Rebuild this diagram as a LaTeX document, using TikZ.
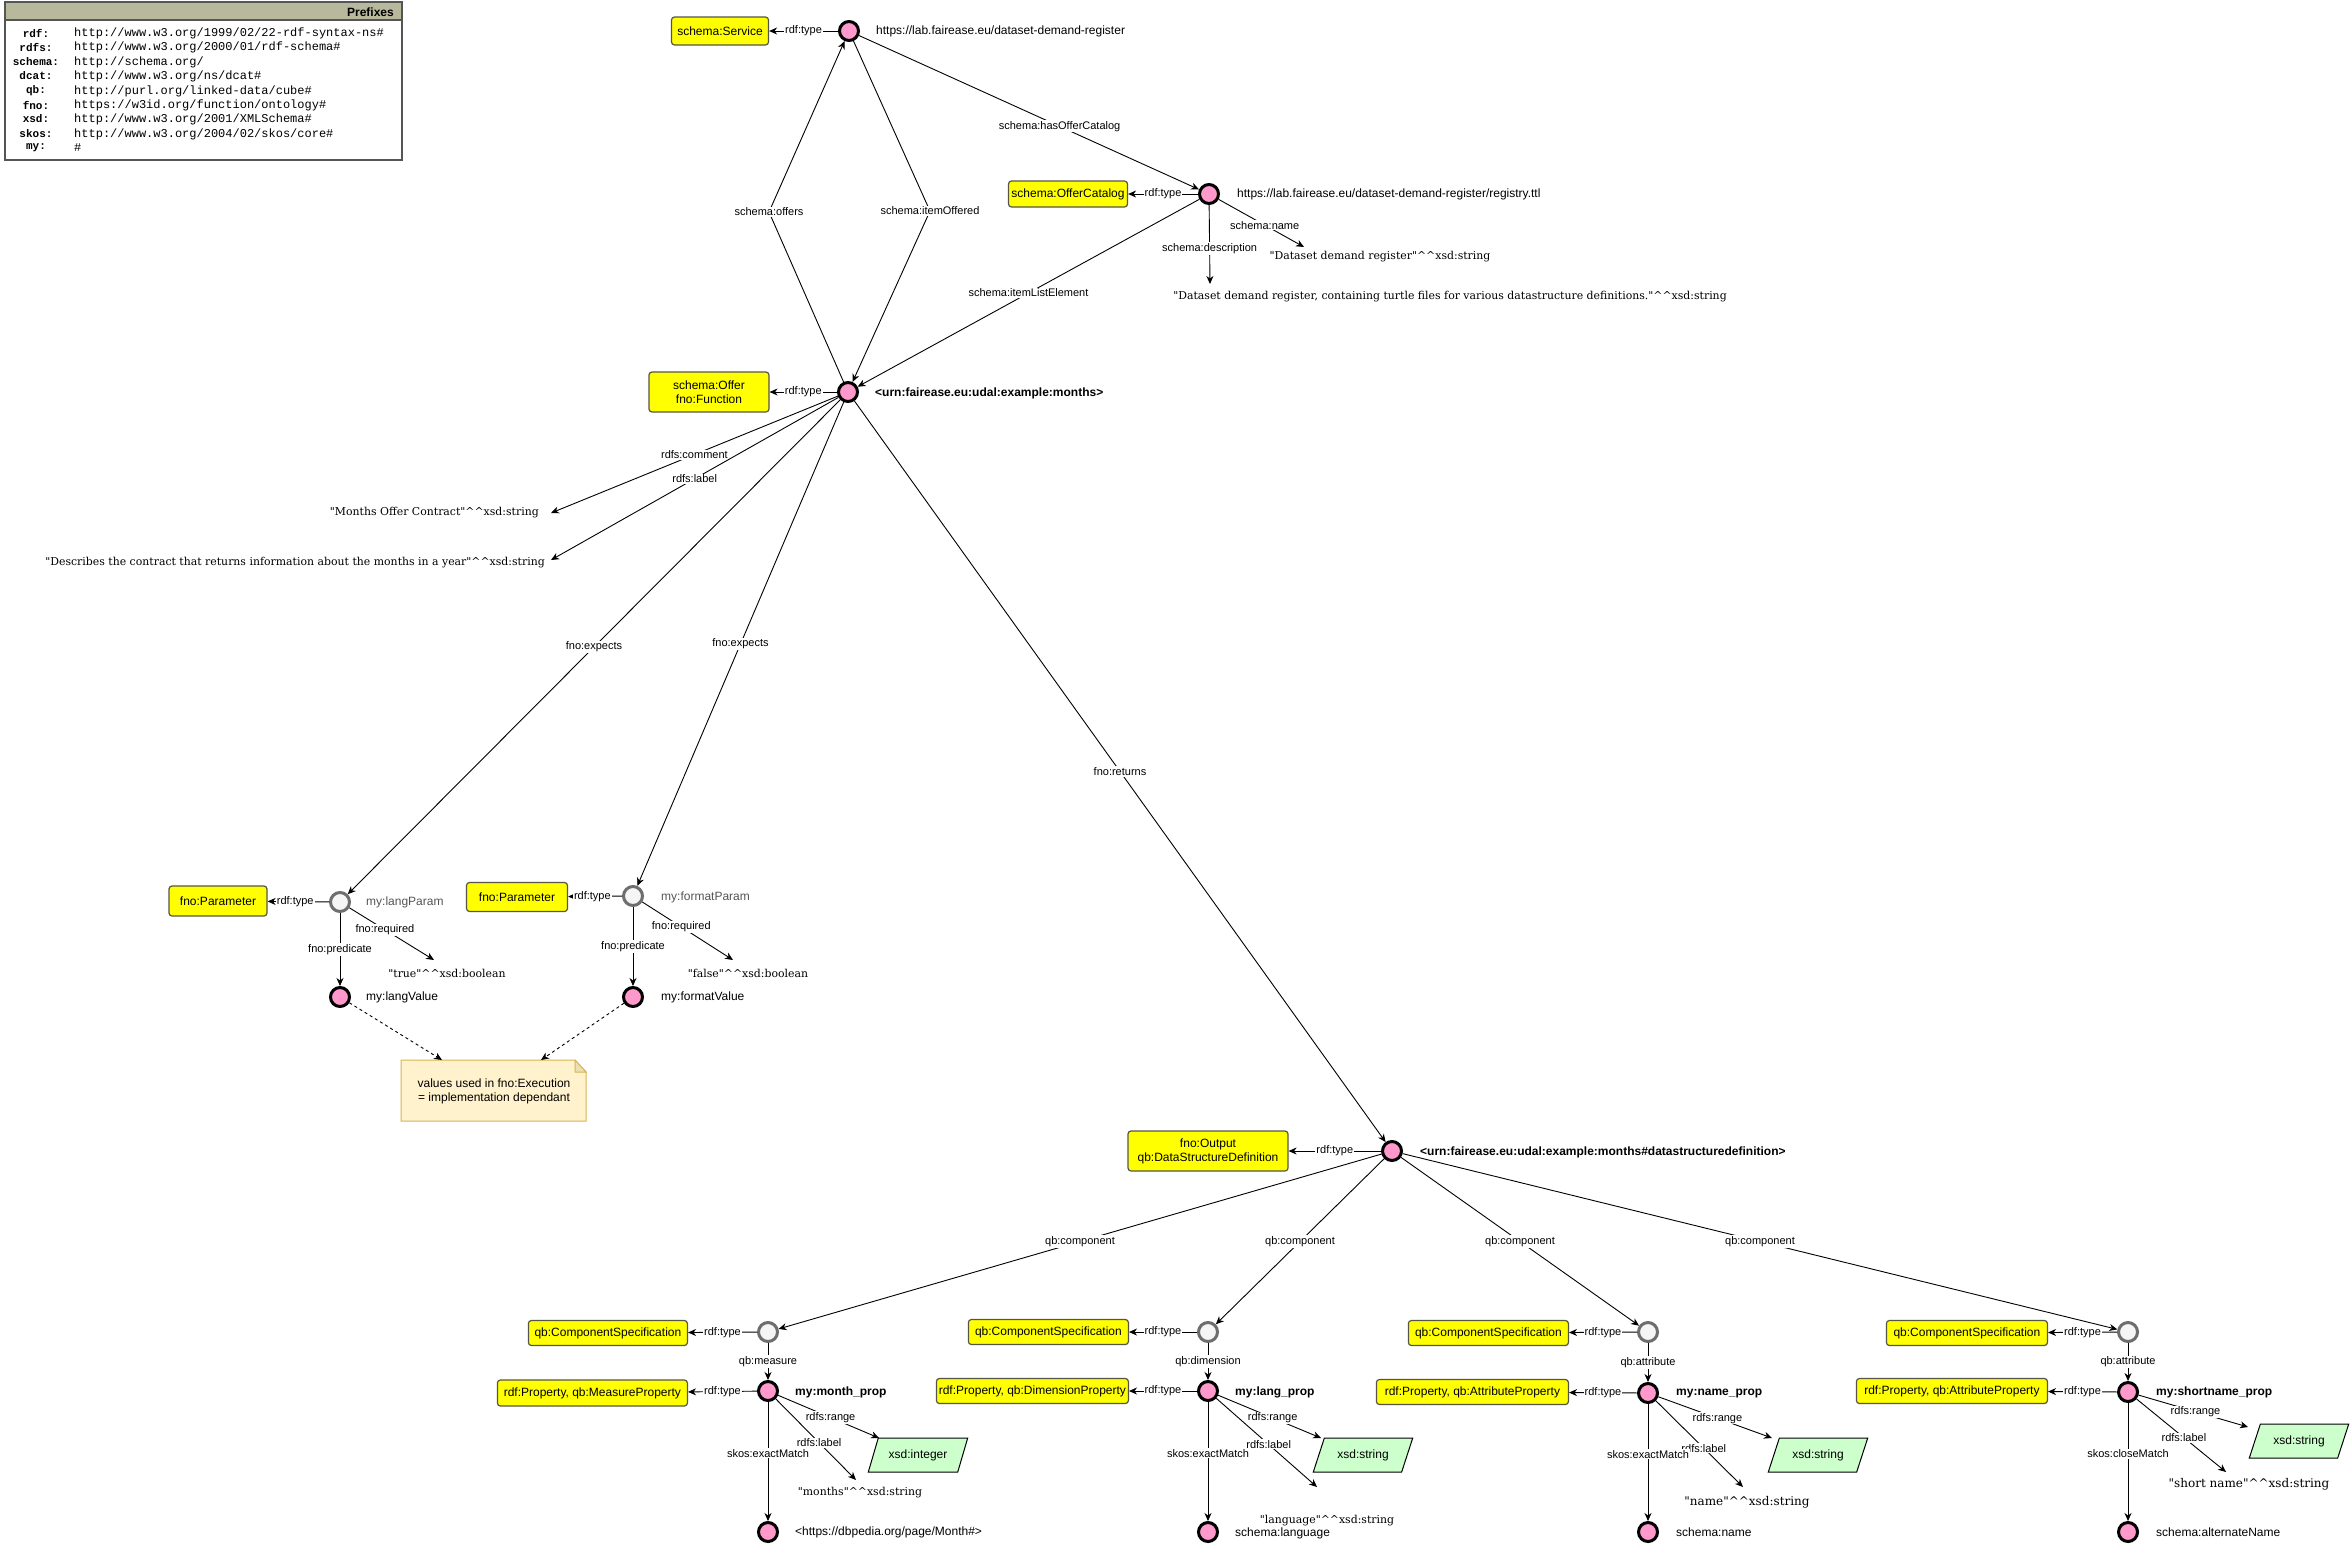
\documentclass[tikz,border=0pt]{standalone}
\usepackage{fontspec}
\setmainfont{Liberation Sans}
\newfontfamily\litfont{DejaVu Serif}
\newfontfamily\pfxfont{Liberation Mono}
\usetikzlibrary{arrows.meta,shapes.geometric}
\definecolor{iripink}{HTML}{FF99CC}
\definecolor{bnfill}{HTML}{F5F5F5}
\definecolor{bnline}{HTML}{6E6E6E}
\definecolor{clsfill}{HTML}{FFFF00}
\definecolor{clsline}{HTML}{555544}
\definecolor{dtfill}{HTML}{CCFFCC}
\definecolor{notefill}{HTML}{FFF2CC}
\definecolor{noteline}{HTML}{D6B656}
\definecolor{notefold}{HTML}{EDE0B0}
\definecolor{hdrfill}{HTML}{B8B89C}
\definecolor{greytxt}{HTML}{555555}
\tikzset{
  edge/.style={draw=black, line width=0.9pt, -{Stealth[length=8pt,width=7pt,inset=2.5pt]}},
  dashedge/.style={edge, dash pattern=on 3pt off 3pt},
  lbl/.style={fill=white, inner sep=1pt, font=\fontsize{11}{13}\selectfont},
  iri/.style={circle, draw=black, line width=3pt, fill=iripink, minimum size=19pt, inner sep=0pt},
  bnode/.style={circle, draw=bnline, line width=3pt, fill=bnfill, minimum size=19pt, inner sep=0pt},
  cls/.style={rectangle, rounded corners=3pt, draw=clsline, line width=1.2pt, fill=clsfill, inner xsep=2pt, inner ysep=2pt, font=\fontsize{12}{14}\selectfont, align=center},
  txt/.style={inner sep=0pt, anchor=west, font=\fontsize{12}{14}\selectfont},
  txtb/.style={inner sep=0pt, anchor=west, font=\bfseries\fontsize{12}{14}\selectfont},
  lit/.style={inner sep=0pt, font=\litfont\fontsize{10.9}{13}\selectfont},
  litbig/.style={inner sep=0pt, font=\litfont\fontsize{12}{14}\selectfont},
  dt/.style={trapezium, trapezium left angle=60, trapezium right angle=120, trapezium stretches=true, draw=black, line width=1pt, fill=dtfill, minimum width=100pt, minimum height=34pt, inner sep=1pt, font=\fontsize{12}{14}\selectfont},
  pfx/.style={inner sep=0pt, font=\pfxfont\bfseries\fontsize{11}{13}\selectfont},
  uri/.style={inner sep=0pt, anchor=west, font=\pfxfont\fontsize{12}{14}\selectfont},
  notebox/.style={inner sep=0pt, minimum width=185pt, minimum height=61pt, align=center, font=\fontsize{12}{14}\selectfont},
}
\newcommand{\dc}{\textasciicircum\textasciicircum}
\begin{document}
\begin{tikzpicture}[x=1pt,y=-1pt]
\useasboundingbox (0,0) rectangle (2352,1547);
\fill[white] (0,0) rectangle (2352,1547);

% ---------- Prefix table ----------
\draw[draw=greytxt, line width=1.2pt, fill=white] (5,2) rectangle (402,160);
\draw[draw=greytxt, line width=1.2pt, fill=hdrfill] (5,2) rectangle (402,20);
\node[inner sep=0pt, anchor=east, font=\bfseries\fontsize{12}{14}\selectfont] (pfxhead) at (394,12) {Prefixes};
\node[pfx] (pf1) at (36,33) {rdf:};    \node[uri] (pu1) at (74,33) {http://www.w3.org/1999/02/22-rdf-syntax-ns\#};
\node[pfx] (pf2) at (36,47) {rdfs:};   \node[uri] (pu2) at (74,47) {http://www.w3.org/2000/01/rdf-schema\#};
\node[pfx] (pf3) at (36,62) {schema:}; \node[uri] (pu3) at (74,62) {http://schema.org/};
\node[pfx] (pf4) at (36,76) {dcat:};   \node[uri] (pu4) at (74,76) {http://www.w3.org/ns/dcat\#};
\node[pfx] (pf5) at (36,91) {qb:};     \node[uri] (pu5) at (74,91) {http://purl.org/linked-data/cube\#};
\node[pfx] (pf6) at (36,105) {fno:};   \node[uri] (pu6) at (74,105) {https://w3id.org/function/ontology\#};
\node[pfx] (pf7) at (36,119) {xsd:};   \node[uri] (pu7) at (74,119) {http://www.w3.org/2001/XMLSchema\#};
\node[pfx] (pf8) at (36,134) {skos:};  \node[uri] (pu8) at (74,134) {http://www.w3.org/2004/02/skos/core\#};
\node[pfx] (pf9) at (36,148) {my:};    \node[uri] (pu9) at (74,148) {\#};

% ---------- Service ----------
\node[iri] (svc) at (849,31) {};
\node[cls, minimum width=97pt, minimum height=28pt] (svcT) at (720,31) {schema:Service};
\node[txt] (svcL) at (876,31) {https://lab.fairease.eu/dataset-demand-register};

% ---------- Catalog ----------
\node[iri] (cat) at (1209,194) {};
\node[cls, minimum width=119pt, minimum height=26pt] (catT) at (1068,194) {schema:OfferCatalog};
\node[txt] (catL) at (1237,194) {https://lab.fairease.eu/dataset-demand-register/registry.ttl};
\coordinate (catNameTip) at (1304,247);
\node[lit] (catName) at (1380,257) {"Dataset demand register"\dc xsd:string};
\coordinate (catDescTip) at (1210,284);
\node[lit] (catDesc) at (1450,297) {"Dataset demand register, containing turtle files for various datastructure definitions."\dc xsd:string};

% ---------- Months offer ----------
\node[iri] (mon) at (848,392) {};
\node[cls, minimum width=120pt, minimum height=40pt] (monT) at (709,392) {schema:Offer\\fno:Function};
\node[txtb] (monL) at (875,393) {<urn:fairease.eu:udal:example:months>};
\coordinate (monComTip) at (551,513);
\node[lit, anchor=east] (monCom) at (539,513) {"Months Offer Contract"\dc xsd:string};
\coordinate (monLabTip) at (551,560);
\node[lit, anchor=east] (monLab) at (545,563) {"Describes the contract that returns information about the months in a year"\dc xsd:string};
\coordinate (bOff) at (769,212);
\coordinate (bItem) at (930,211);

% ---------- Parameters ----------
\node[bnode] (lp) at (340,902) {};
\node[cls, minimum width=98pt, minimum height=30pt] (lpT) at (218,901) {fno:Parameter};
\node[txt, text=greytxt] (lpL) at (366,902) {my:langParam};
\coordinate (lpReqTip) at (434,960);
\node[lit] (lpReq) at (447,973) {"true"\dc xsd:boolean};
\node[iri] (lv) at (340,997) {};
\node[txt] (lvL) at (366,997) {my:langValue};

\node[bnode] (fp) at (633,896) {};
\node[cls, minimum width=101pt, minimum height=29pt] (fpT) at (517,897) {fno:Parameter};
\node[txt, text=greytxt] (fpL) at (661,897) {my:formatParam};
\coordinate (fpReqTip) at (733,960);
\node[lit] (fpReq) at (748,973) {"false"\dc xsd:boolean};
\node[iri] (fv) at (633,997) {};
\node[txt] (fvL) at (661,997) {my:formatValue};

% note
\draw[draw=noteline, line width=1pt, fill=notefill] (401,1060) -- (575,1060) -- (586,1072) -- (586,1121) -- (401,1121) -- cycle;
\draw[draw=noteline, line width=1pt, fill=notefold] (575,1060) -- (575,1072) -- (586,1072) -- cycle;
\node[notebox] (note) at (494,1091) {values used in fno:Execution\\= implementation dependant};
\coordinate (noteA) at (442,1060);
\coordinate (noteB) at (541,1060);

% ---------- Data structure definition ----------
\node[iri] (dsd) at (1392,1151) {};
\node[cls, minimum width=160pt, minimum height=40pt] (dsdT) at (1208,1151) {fno:Output\\qb:DataStructureDefinition};
\node[txtb] (dsdL) at (1420,1152) {<urn:fairease.eu:udal:example:months\#datastructuredefinition>};

% component 1
\node[bnode] (cs1) at (768,1332) {};
\node[cls, anchor=east, minimum width=159pt, minimum height=25pt] (cs1T) at (688,1333) {qb:ComponentSpecification};
\node[iri] (p1) at (768,1391) {};
\node[cls, anchor=east, minimum width=190pt, minimum height=26pt] (p1T) at (688,1393) {rdf:Property, qb:MeasureProperty};
\node[txtb] (p1L) at (795,1392) {my:month\_prop};
\node[dt] (p1R) at (918,1455) {xsd:integer};
\coordinate (p1RTip) at (879,1438);
\coordinate (p1LTip) at (856,1480);
\node[lit] (p1Lit) at (860,1493) {"months"\dc xsd:string};
\node[iri] (p1M) at (768,1532) {};
\node[txt] (p1ML) at (795,1532) {<https://dbpedia.org/page/Month\#>};

% component 2
\node[bnode] (cs2) at (1208,1332) {};
\node[cls, anchor=east, minimum width=160pt, minimum height=25pt] (cs2T) at (1129,1332) {qb:ComponentSpecification};
\node[iri] (p2) at (1208,1391) {};
\node[cls, anchor=east, minimum width=192pt, minimum height=25pt] (p2T) at (1129,1391) {rdf:Property, qb:DimensionProperty};
\node[txtb] (p2L) at (1235,1392) {my:lang\_prop};
\node[dt] (p2R) at (1363,1455) {xsd:string};
\coordinate (p2RTip) at (1321,1438);
\coordinate (p2LTip) at (1317,1487);
\node[lit] (p2Lit) at (1327,1521) {"language"\dc xsd:string};
\node[iri] (p2M) at (1208,1532) {};
\node[txt] (p2ML) at (1235,1533) {schema:language};

% component 3
\node[bnode] (cs3) at (1648,1332) {};
\node[cls, anchor=east, minimum width=160pt, minimum height=25pt] (cs3T) at (1569,1333) {qb:ComponentSpecification};
\node[iri] (p3) at (1648,1393) {};
\node[cls, anchor=east, minimum width=192pt, minimum height=25pt] (p3T) at (1569,1392) {rdf:Property, qb:AttributeProperty};
\node[txtb] (p3L) at (1676,1393) {my:name\_prop};
\node[dt] (p3R) at (1818,1455) {xsd:string};
\coordinate (p3RTip) at (1772,1438);
\coordinate (p3LTip) at (1743,1487);
\node[litbig] (p3Lit) at (1747,1502) {"name"\dc xsd:string};
\node[iri] (p3M) at (1648,1532) {};
\node[txt] (p3ML) at (1676,1532) {schema:name};

% component 4
\node[bnode] (cs4) at (2128,1332) {};
\node[cls, anchor=east, minimum width=161pt, minimum height=25pt] (cs4T) at (2048,1333) {qb:ComponentSpecification};
\node[iri] (p4) at (2128,1392) {};
\node[cls, anchor=east, minimum width=191pt, minimum height=25pt] (p4T) at (2048,1391) {rdf:Property, qb:AttributeProperty};
\node[txtb] (p4L) at (2156,1392) {my:shortname\_prop};
\node[dt] (p4R) at (2299,1441) {xsd:string};
\coordinate (p4RTip) at (2248,1427);
\coordinate (p4LTip) at (2226,1472);
\node[litbig] (p4Lit) at (2249,1484) {"short name"\dc xsd:string};
\node[iri] (p4M) at (2128,1532) {};
\node[txt] (p4ML) at (2156,1532) {schema:alternateName};

% ---------- Edges ----------
\draw[edge] (svc) -- node[lbl]{rdf:type} (svcT);
\draw[edge] (svc) -- node[lbl, pos=0.59]{schema:hasOfferCatalog} (cat);
\draw[edge] (cat) -- node[lbl]{rdf:type} (catT);
\draw[edge] (cat) -- node[lbl, pos=0.54]{schema:name} (catNameTip);
\draw[edge] (cat) -- node[lbl, pos=0.55]{schema:description} (catDescTip);
\draw[edge] (cat) -- node[lbl]{schema:itemListElement} (mon);
\draw[edge] (mon) -- (bOff) node[lbl]{schema:offers} -- (svc);
\draw[edge] (svc) -- (bItem) node[lbl]{schema:itemOffered} -- (mon);
\draw[edge] (mon) -- node[lbl]{rdf:type} (monT);
\draw[edge] (mon) -- node[lbl, pos=0.5]{rdfs:comment} (monComTip);
\draw[edge] (mon) -- node[lbl, pos=0.5]{rdfs:label} (monLabTip);
\draw[edge] (mon) -- node[lbl]{fno:expects} (lp);
\draw[edge] (mon) -- node[lbl]{fno:expects} (fp);
\draw[edge] (mon) -- node[lbl]{fno:returns} (dsd);

\draw[edge] (lp) -- node[lbl, pos=0.55]{rdf:type} (lpT);
\draw[edge] (lp) -- node[lbl, pos=0.42]{fno:required} (lpReqTip);
\draw[edge] (lp) -- node[lbl]{fno:predicate} (lv);
\draw[edge] (fp) -- node[lbl, pos=0.55]{rdf:type} (fpT);
\draw[edge] (fp) -- node[lbl, pos=0.43]{fno:required} (fpReqTip);
\draw[edge] (fp) -- node[lbl]{fno:predicate} (fv);
\draw[dashedge] (lv) -- (noteA);
\draw[dashedge] (fv) -- (noteB);

\draw[edge] (dsd) -- node[lbl]{rdf:type} (dsdT);
\draw[edge] (dsd) -- node[lbl]{qb:component} (cs1);
\draw[edge] (dsd) -- node[lbl]{qb:component} (cs2);
\draw[edge] (dsd) -- node[lbl]{qb:component} (cs3);
\draw[edge] (dsd) -- node[lbl]{qb:component} (cs4);

\draw[edge] (cs1) -- node[lbl]{rdf:type} (cs1T);
\draw[edge] (cs1) -- node[lbl]{qb:measure} (p1);
\draw[edge] (p1) -- node[lbl]{rdf:type} (p1T);
\draw[edge] (p1) -- node[lbl, pos=0.52]{rdfs:range} (p1RTip);
\draw[edge] (p1) -- node[lbl, pos=0.54]{rdfs:label} (p1LTip);
\draw[edge] (p1) -- node[lbl, pos=0.43]{skos:exactMatch} (p1M);

\draw[edge] (cs2) -- node[lbl]{rdf:type} (cs2T);
\draw[edge] (cs2) -- node[lbl]{qb:dimension} (p2);
\draw[edge] (p2) -- node[lbl]{rdf:type} (p2T);
\draw[edge] (p2) -- node[lbl, pos=0.53]{rdfs:range} (p2RTip);
\draw[edge] (p2) -- node[lbl, pos=0.52]{rdfs:label} (p2LTip);
\draw[edge] (p2) -- node[lbl, pos=0.43]{skos:exactMatch} (p2M);

\draw[edge] (cs3) -- node[lbl]{rdf:type} (cs3T);
\draw[edge] (cs3) -- node[lbl]{qb:attribute} (p3);
\draw[edge] (p3) -- node[lbl]{rdf:type} (p3T);
\draw[edge] (p3) -- node[lbl, pos=0.52]{rdfs:range} (p3RTip);
\draw[edge] (p3) -- node[lbl, pos=0.55]{rdfs:label} (p3LTip);
\draw[edge] (p3) -- node[lbl, pos=0.43]{skos:exactMatch} (p3M);

\draw[edge] (cs4) -- node[lbl]{rdf:type} (cs4T);
\draw[edge] (cs4) -- node[lbl]{qb:attribute} (p4);
\draw[edge] (p4) -- node[lbl]{rdf:type} (p4T);
\draw[edge] (p4) -- node[lbl, pos=0.52]{rdfs:range} (p4RTip);
\draw[edge] (p4) -- node[lbl, pos=0.53]{rdfs:label} (p4LTip);
\draw[edge] (p4) -- node[lbl, pos=0.43]{skos:closeMatch} (p4M);
\end{tikzpicture}
\end{document}
